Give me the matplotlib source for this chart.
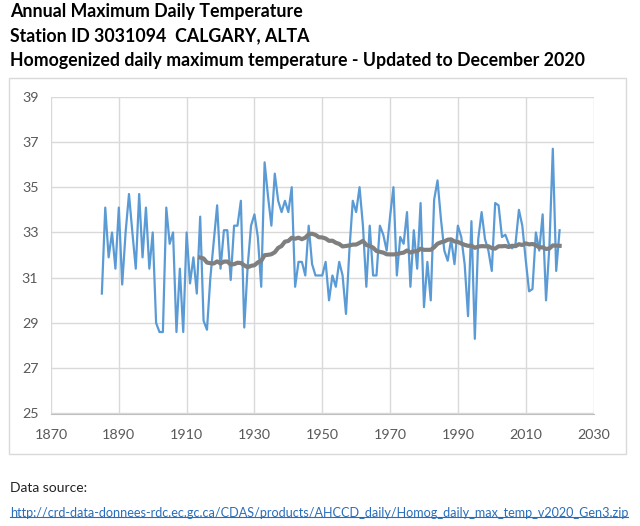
import matplotlib
matplotlib.use("Agg")
import matplotlib.pyplot as plt
import numpy as np
import pandas as pd

# annual maximum daily temperature, Calgary
years = list(range(1885, 2021))
tmax = [
    30.3, 34.1, 31.9, 33.0, 31.4, 34.1, 30.7, 33.0, 34.7, 33.0,   # 1885-1894
    31.4, 34.7, 31.9, 34.1, 31.4, 33.0, 29.0, 28.6, 28.6, 34.1,   # 1895-1904
    32.5, 33.0, 28.6, 31.4, 28.6, 33.0, 30.75, 31.9, 30.3, 33.7,  # 1905-1914
    29.1, 28.7, 31.0, 32.6, 34.2, 31.4, 33.1, 33.1, 30.9, 33.3,   # 1915-1924
    33.3, 34.4, 28.8, 31.5, 33.3, 33.8, 32.8, 30.6, 36.1, 34.6,   # 1925-1934
    33.3, 35.6, 34.4, 33.9, 34.4, 33.9, 35.0, 30.6, 31.7, 31.7,   # 1935-1944
    31.1, 33.3, 31.6, 31.1, 31.1, 31.1, 31.7, 30.0, 31.1, 30.6,   # 1945-1954
    31.7, 31.1, 29.4, 32.2, 34.4, 33.9, 35.0, 33.3, 30.6, 33.3,   # 1955-1964
    31.1, 31.1, 33.3, 32.9, 32.2, 33.7, 35.0, 31.1, 32.8, 32.5,   # 1965-1974
    33.9, 30.6, 33.1, 31.4, 34.3, 29.7, 31.7, 30.0, 34.45, 35.3,  # 1975-1984
    33.6, 32.2, 31.75, 32.7, 31.6, 33.3, 32.8, 31.6, 29.3, 33.5,  # 1985-1994
    28.3, 32.7, 33.9, 32.7, 32.2, 31.3, 34.3, 34.2, 32.8, 32.9,   # 1995-2004
    32.5, 32.3, 32.5, 34.0, 33.3, 31.8, 30.4, 30.5, 33.0, 32.2,   # 2005-2014
    33.8, 30.0, 32.4, 36.7, 31.3, 33.1,                           # 2015-2020
]
ma_period = 30

x_ticks = list(range(1870, 2031, 20))
y_ticks = list(range(25, 40, 2))

title_lines = [
    "Annual Maximum Daily Temperature",
    "Station ID 3031094  CALGARY, ALTA",
    "Homogenized daily maximum temperature - Updated to December 2020",
]
source_label = "Data source:"
source_url = "http://crd-data-donnees-rdc.ec.gc.ca/CDAS/products/AHCCD_daily/Homog_daily_max_temp_v2020_Gen3.zip"


def main():
    plt.rcParams["font.family"] = ["Lato", "DejaVu Sans"]
    fig = plt.figure(figsize=(6.4, 5.26), dpi=100)

    # chart frame
    frame = plt.Rectangle((9 / 640, 1 - 453.7 / 526), 617 / 640, 375.4 / 526,
                          transform=fig.transFigure, fill=False,
                          edgecolor="#D9D9D9", lw=1)
    fig.patches.append(frame)

    ax = fig.add_axes([51 / 640, 1 - 413.5 / 526, 542.5 / 640, 316.8 / 526])

    s = pd.Series(tmax, index=years)
    ma = s.rolling(ma_period).mean().dropna()

    ax.plot(years, tmax, color="#5B9BD5", lw=1.6, zorder=3)
    ax.plot(ma.index, ma.values, color="#7F7F7F", lw=3, zorder=4)

    ax.set_xlim(1870, 2030)
    ax.set_ylim(25, 39)
    ax.set_xticks(x_ticks)
    ax.set_yticks(y_ticks)
    ax.grid(True, color="#D9D9D9", lw=1)
    ax.set_axisbelow(True)
    for side in ["top", "right", "left"]:
        ax.spines[side].set_visible(False)
    ax.spines["bottom"].set_color("#BFBFBF")
    ax.tick_params(axis="both", length=0, labelsize=10.3, labelcolor="#595959")
    ax.tick_params(axis="x", pad=11)
    ax.tick_params(axis="y", pad=9)

    ys = [11.7, 36.0, 60.7]
    for txt, yp in zip(title_lines, ys):
        fig.text(10 / 640, 1 - yp / 526, txt, fontsize=12.75, fontweight="bold",
                 color="#000000", ha="left", va="center")

    fig.text(10 / 640, 1 - 487.7 / 526, source_label, fontsize=10,
             color="#222222", ha="left", va="center")
    url = fig.text(10 / 640, 1 - 513 / 526, source_url, fontsize=9.1,
                   color="#2A6EBB", ha="left", va="center")
    # underline the link
    fig.canvas.draw()
    bb = url.get_window_extent()
    inv = fig.transFigure.inverted()
    (x0, y0), (x1, _) = inv.transform([[bb.x0, bb.y0], [bb.x1, bb.y1]])
    fig.add_artist(plt.Line2D([x0, x1], [y0 + 0.003, y0 + 0.003],
                              transform=fig.transFigure, color="#2A6EBB", lw=0.8))

    fig.savefig("out.png", dpi=100)


if __name__ == '__main__':
    main()
